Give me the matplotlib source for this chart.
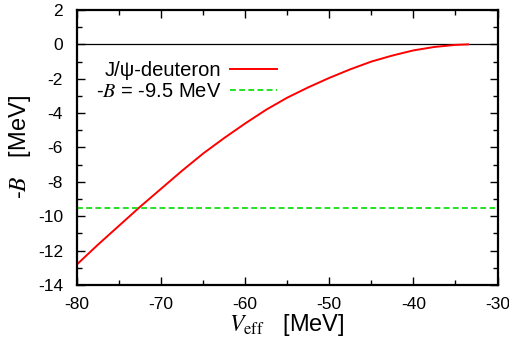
import numpy as np
import matplotlib
matplotlib.use('Agg')
import matplotlib.pyplot as plt
from matplotlib.ticker import MultipleLocator

plt.rcParams['font.family'] = ['Liberation Sans', 'DejaVu Sans']
plt.rcParams['mathtext.fontset'] = 'stix'
plt.rcParams['axes.unicode_minus'] = False

# data
v_eff = [-80, -77.5, -75, -72.5, -70, -67.5, -65, -62.5, -60, -57.5, -55,
         -52.5, -50, -47.5, -45, -42.5, -40, -37.5, -35, -33.5]
minus_b = [-12.8, -11.65, -10.55, -9.45, -8.4, -7.35, -6.35, -5.45, -4.6, -3.8,
           -3.1, -2.5, -1.95, -1.45, -1.0, -0.65, -0.35, -0.15, -0.03, 0.0]
b_ref = -9.5
x_range = [-80, -30]

fig = plt.figure(figsize=(5.1, 3.45), dpi=100)
ax = fig.add_axes([0.151, 0.174, 0.8245, 0.797])

ax.axhline(0, color='black', lw=0.9, zorder=1)
ax.plot(v_eff, minus_b, color='#ff0000', lw=1.4, label=r'J/ψ-deuteron')
ax.plot(x_range, [b_ref, b_ref], color='#00dd00', lw=1.2, ls=(0, (3.5, 2)),
        label=r'-$\mathit{B}$ = -9.5 MeV')

ax.set_xlim(-80, -30)
ax.set_ylim(-14, 2)
ax.xaxis.set_major_locator(MultipleLocator(10))
ax.xaxis.set_minor_locator(MultipleLocator(5))
ax.yaxis.set_major_locator(MultipleLocator(2))
ax.yaxis.set_minor_locator(MultipleLocator(1))
ax.tick_params(which='both', direction='in', top=True, right=True,
               labelsize=12.5, width=1.0)
ax.tick_params(axis='x', pad=9)
ax.tick_params(axis='y', pad=10)
ax.tick_params(which='major', length=6)
ax.tick_params(which='minor', length=3.5)
for s in ax.spines.values():
    s.set_linewidth(1.6)

ax.set_xlabel(r'$V_{\rm eff}$   [MeV]', fontsize=17, labelpad=0)
ax.set_ylabel(r'-$\mathit{B}$   [MeV]', fontsize=17)
ax.yaxis.set_label_coords(-0.105, 0.5)

leg = ax.legend(loc='upper right', bbox_to_anchor=(0.475, 0.815), frameon=False,
                markerfirst=False, fontsize=14.5, handlelength=2.3,
                handletextpad=0.45, labelspacing=0.12, borderaxespad=0,
                borderpad=0)
for t in leg.get_texts():
    t.set_ha('right')

fig.savefig('out.png', dpi=100)
